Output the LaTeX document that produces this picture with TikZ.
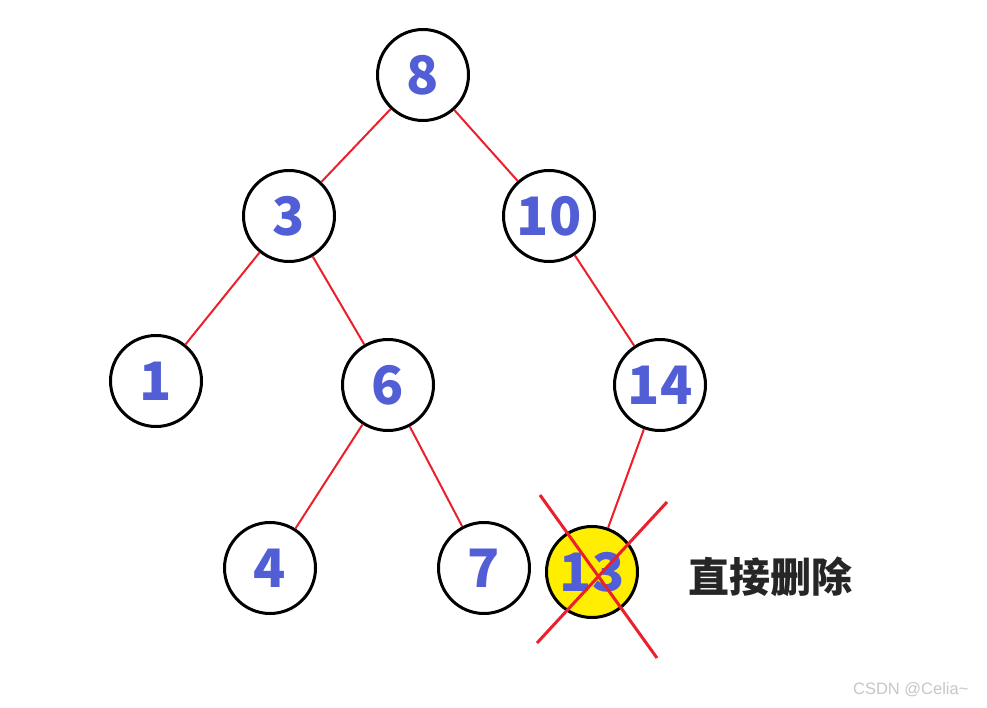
\documentclass[tikz,border=0pt]{standalone}
\usepackage{fontspec}
\newfontfamily\cjk{Noto Sans CJK SC}
\newfontfamily\marca{Liberation Sans}
\definecolor{numazul}{RGB}{82,94,214}
\definecolor{rojo}{RGB}{235,32,44}
\definecolor{amarillo}{RGB}{255,238,0}

\begin{document}
\begin{tikzpicture}[x=1pt,y=-1pt,
  nodo/.style={circle,draw=black,line width=3pt,fill=white,minimum size=91pt,inner sep=0pt,
    text=numazul,font=\cjk\bfseries\fontsize{53}{58}\selectfont},
  arista/.style={draw=rojo,line width=2pt}]
  \useasboundingbox[fill=white] (0,0) rectangle (987,708);
  % nodos del arbol
  \node[nodo] (n8)  at (423,75)  {8};
  \node[nodo] (n3)  at (289,216) {3};
  \node[nodo] (n10) at (549,216) {10};
  \node[nodo] (n1)  at (156,381) {1};
  \node[nodo] (n6)  at (388,385) {6};
  \node[nodo] (n14) at (660,385) {14};
  \node[nodo] (n4)  at (270,568) {4};
  \node[nodo] (n7)  at (484,568) {7};
  \node[nodo,fill=amarillo] (n13) at (592,572) {13};
  % aristas
  \draw[arista] (n8) -- (n3);
  \draw[arista] (n8) -- (n10);
  \draw[arista] (n3) -- (n1);
  \draw[arista] (n3) -- (n6);
  \draw[arista] (n10) -- (n14);
  \draw[arista] (n6) -- (n4);
  \draw[arista] (n6) -- (n7);
  \draw[arista] (n14) -- (n13);
  % cruz sobre el nodo borrado
  \draw[rojo,line width=3pt] (540,495) -- (657,658);
  \draw[rojo,line width=3pt] (667,502) -- (537,643);
  % textos
  \node[anchor=west,text={black!85},font=\cjk\bfseries\fontsize{41}{46}\selectfont] (borrar) at (685,577) {直接删除};
  \node[anchor=east,text={black!22},font=\marca\fontsize{16.5}{18}\selectfont] (marca) at (972,690) {CSDN @Celia\textasciitilde};
\end{tikzpicture}
\end{document}
